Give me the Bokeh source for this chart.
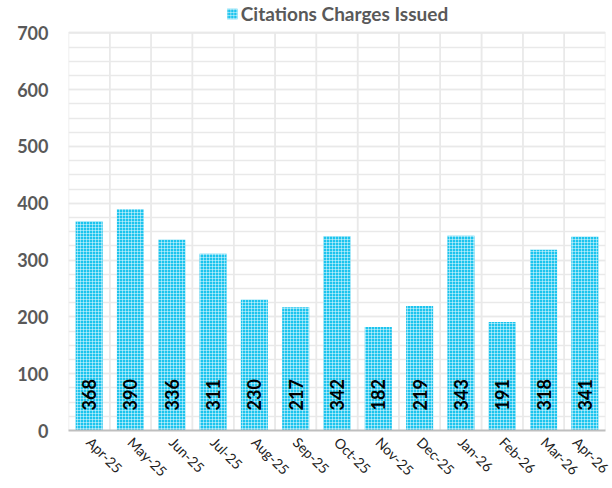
import math
from bokeh.plotting import figure
from bokeh.models import (ColumnDataSource, FactorRange, Range1d, Legend, LegendItem,
                          SingleIntervalTicker)
from bokeh.core.properties import value
from bokeh.embed import file_html
from bokeh.resources import INLINE

months = ["Apr-25", "May-25", "Jun-25", "Jul-25", "Aug-25", "Sep-25", "Oct-25",
          "Nov-25", "Dec-25", "Jan-26", "Feb-26", "Mar-26", "Apr-26"]
citations = [368, 390, 336, 311, 230, 217, 342, 182, 219, 343, 191, 318, 341]
series_name = "Citations Charges Issued"
y_max = 700          # top of the value axis
y_step = 100
y_view_top = 757     # extra headroom above 700 for the legend row

FONT = "Lato"
GRID = "#e9e9e9"

src = ColumnDataSource(dict(
    month=months,
    val=citations,
    label=[str(v) for v in citations],
    base=[0] * len(citations),
    cell_top=[y_max] * len(citations),
))

p = figure(x_range=FactorRange(*months, range_padding=0),
           y_range=Range1d(0, y_view_top),
           width=612, height=488,
           output_backend="svg", toolbar_location=None,
           min_border_left=68, min_border_right=7,
           min_border_top=0, min_border_bottom=46)
p.outline_line_color = None
p.background_fill_color = "white"

# grids
p.yaxis.ticker = SingleIntervalTicker(interval=y_step, num_minor_ticks=4)
p.yaxis.bounds = (0, y_max)
p.ygrid.bounds = (0, y_max)
p.ygrid.grid_line_color = GRID
p.ygrid.grid_line_width = 1.5
p.ygrid.minor_grid_line_color = GRID
p.ygrid.minor_grid_line_width = 1.5
p.xgrid.grid_line_color = None

# vertical grid lines at category boundaries (cell outlines)
p.vbar(x="month", top="cell_top", bottom="base", width=1.0, source=src,
       fill_color=None, line_color=GRID, line_width=1.5)

bars = p.vbar(x="month", top="val", width=0.655, source=src,
              fill_color="#1cc4ee", line_color=None,
              hatch_pattern="+", hatch_color="white", hatch_alpha=0.45,
              hatch_scale=3, hatch_weight=1)

p.text(x="month", y="base", text="label", source=src,
       angle=math.pi / 2, text_align="left", text_baseline="middle",
       y_offset=-20, text_font=value(FONT), text_font_style="bold",
       text_font_size="18px", text_color="black")

# axes
p.yaxis.axis_line_color = None
p.yaxis.major_tick_line_color = None
p.yaxis.minor_tick_line_color = None
p.yaxis.major_tick_out = 0
p.yaxis.minor_tick_out = 0
p.yaxis.major_label_standoff = 20
p.yaxis.major_label_text_font = FONT
p.yaxis.major_label_text_font_style = "bold"
p.yaxis.major_label_text_font_size = "18px"
p.yaxis.major_label_text_color = "#595959"

p.xaxis.axis_line_color = "#bfbfbf"
p.xaxis.axis_line_width = 2
p.xaxis.major_tick_line_color = None
p.xaxis.major_tick_out = 0
p.xaxis.major_label_standoff = 9
p.xaxis.major_label_orientation = -math.pi / 4
p.xaxis.major_label_text_font = FONT
p.xaxis.major_label_text_font_size = "14px"
p.xaxis.major_label_text_color = "#222222"

legend = Legend(items=[LegendItem(label=series_name, renderers=[bars])],
                location="top_center", orientation="horizontal",
                padding=0, margin=2, spacing=0,
                glyph_width=13, glyph_height=13, label_standoff=3,
                label_text_font=FONT, label_text_font_style="bold",
                label_text_font_size="19px", label_text_color="#595959",
                border_line_color=None, background_fill_alpha=0)
p.add_layout(legend, "center")

page_css = "{% block postamble %}<style>html, body { overflow: hidden; }</style>{% endblock %}"
open("out.html", "w").write(file_html(p, INLINE, template=page_css))
